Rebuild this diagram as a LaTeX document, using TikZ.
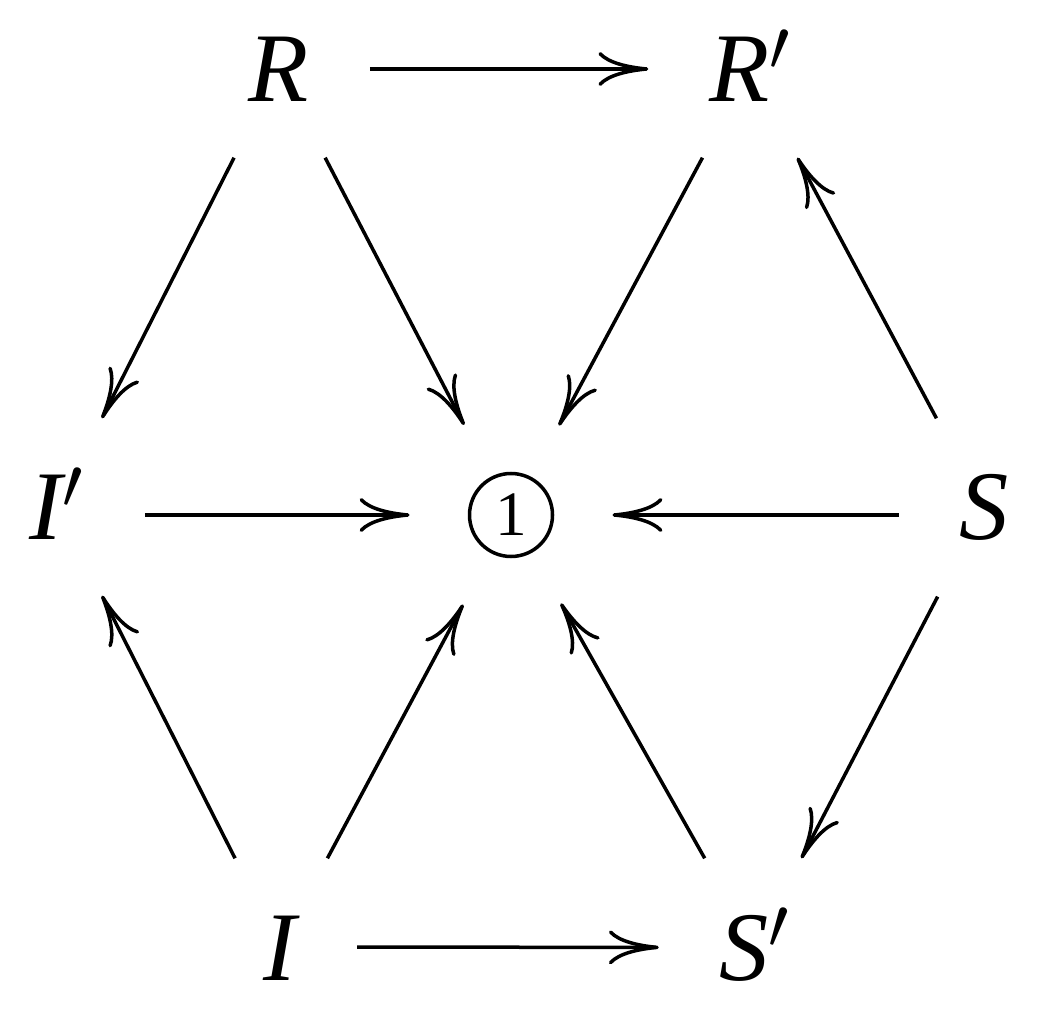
\documentclass[tikz,border=0pt]{standalone}
\usepackage{fontspec}
\setmainfont{Liberation Serif}[ItalicFont={Liberation Serif Italic}]
\usetikzlibrary{arrows.meta}

\begin{document}
\begin{tikzpicture}[
  letter/.style={rectangle, inner xsep=0.6cm, inner ysep=0.55cm, text height=0.66cm, anchor=base, font=\fontsize{28}{32}\selectfont\itshape},
  arr/.style={-{Computer Modern Rightarrow[length=0.5cm,width=0.34cm]}, line width=0.035cm}
]
\useasboundingbox (0,0) rectangle (10.37,10.16);

% Top row
\node[letter] (R) at (2.79,9.14) {R};
\node[letter] (Rp) at (7.5,9.14) {R$'$};

% Middle row
\node[letter] (Ip) at (0.57,4.76) {I$'$};
\node[circle, draw, line width=0.035cm, minimum size=0.83cm, inner sep=0pt, outer sep=0.6cm, font=\fontsize{18}{20}\selectfont] (one) at (5.11,5.01) {1};
\node[letter] (S) at (9.84,4.76) {S};

% Bottom row
\node[letter] (I) at (2.80,0.36) {I};
\node[letter] (Sp) at (7.55,0.36) {S$'$};

% Outer arrows
\draw[arr] (R) -- (Rp);
\draw[arr] (R) -- (Ip);
\draw[arr] (S) -- (Rp);
\draw[arr] (S) -- (Sp);
\draw[arr] (I) -- (Ip);
\draw[arr] (I) -- (Sp);

% Arrows into the centre
\draw[arr] (R) -- (one);
\draw[arr] (Rp) -- (one);
\draw[arr] (Ip.east |- one) -- (one);
\draw[arr] (S.west |- one) -- (one);
\draw[arr] (I) -- (one);
\draw[arr] (Sp) -- (one);
\end{tikzpicture}
\end{document}
